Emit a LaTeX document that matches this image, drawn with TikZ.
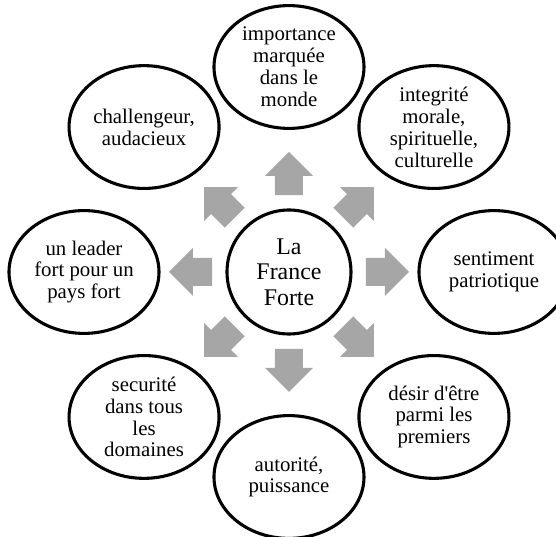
\documentclass[tikz,border=0pt]{standalone}
\usepackage{fontspec}
\setmainfont{Liberation Serif}
\usepackage{tikz}
\usetikzlibrary{shapes.geometric, calc, positioning}
\definecolor{arrowgray}{RGB}{166,166,166}

\begin{document}
\begin{tikzpicture}[
		idee/.style={ellipse, draw, line width=2.2pt, minimum width=3.75cm, minimum height=3.07cm, inner sep=0pt, align=center, font=\fontsize{14.8}{15.6}\selectfont},
		centre/.style={circle, draw, line width=2.2pt, minimum size=3.1cm, inner sep=0pt, align=center, font=\fontsize{17}{18}\selectfont},
		bloc/.style={fill=arrowgray}
		]
		\clip (-7.225,-6.625) rectangle (6.675,6.8);
		
		% Le centre
		\node[centre] (c) at (0,0) {La\\France\\Forte};
		
		% Les idees autour
		\node[idee] (n) at (90:5.125) {importance\\marquée\\dans le\\monde};
		\node[idee] (ne) at (45:5.125) {integrité\\morale,\\spirituelle,\\culturelle};
		\node[idee] (e) at (0:5.125) {sentiment\\patriotique};
		\node[idee] (se) at (-45:5.125) {désir d\textquotesingle être\\parmi les\\premiers};
		\node[idee] (s) at (-90:5.125) {autorité,\\puissance};
		\node[idee] (so) at (-135:5.125) {securité\\dans tous\\les\\domaines};
		\node[idee] (o) at (180:5.125) {un leader\\fort pour un\\pays fort};
		\node[idee] (no) at (135:5.125) {challengeur,\\audacieux};
		
		% Les fleches grises
		\foreach \a in {0,45,...,315}
			\fill[bloc, shift={(c)}, rotate=\a] (1.92,-0.35) -- (2.4,-0.35) -- (2.4,-0.6) -- (3.0,0) -- (2.4,0.6) -- (2.4,0.35) -- (1.92,0.35) -- cycle;
	\end{tikzpicture}
\end{document}
